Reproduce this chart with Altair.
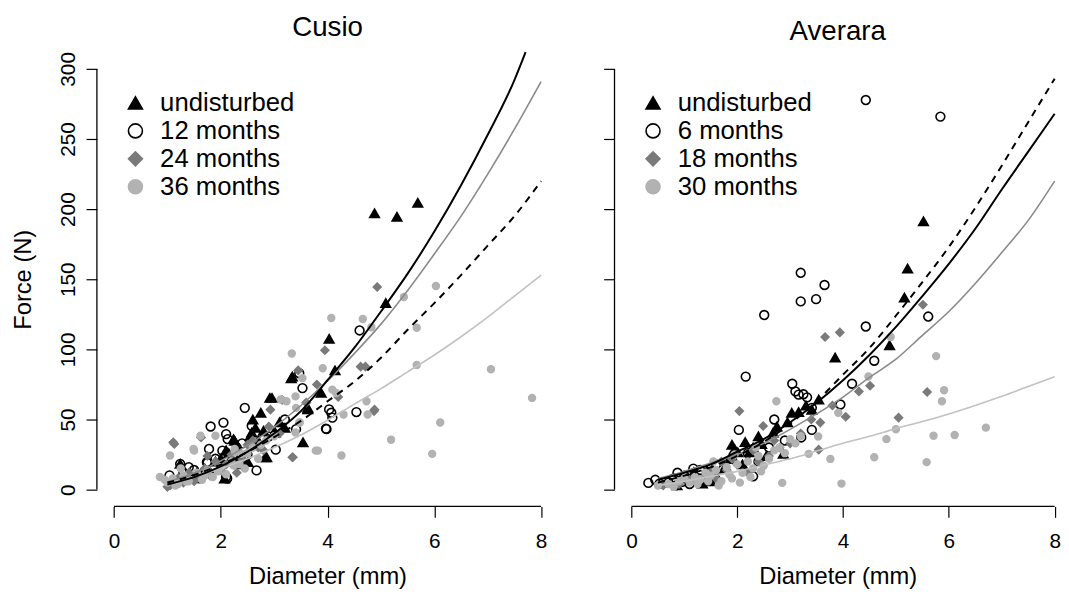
import altair as alt
import pandas as pd

FONT = "Liberation Sans"
x_ticks = [0, 2, 4, 6, 8]
y_ticks = [0, 50, 100, 150, 200, 250, 300]
y_domain = [-12, 312]

shapes = ["triangle-up", "circle", "diamond", "circle"]
fills = ["#000000", "transparent", "#7a7a7a", "#b2b2b2"]
strokes = ["#000000", "#000000", "#7a7a7a", "#b2b2b2"]
sizes = [95, 48, 34, 90]
size_keys = ["s1", "s2", "s3", "s4"]

# ---------------- Cusio ----------------
cus_groups = ["undisturbed", "12 months", "24 months", "36 months"]
cus_und_d = [4.88, 5.30, 5.69, 4.03, 5.09, 4.14, 3.34, 2.96, 3.88, 3.63, 3.54, 2.75, 3.02, 2.86, 2.51, 2.58, 2.26, 2.07, 1.24, 2.92, 2.99, 2.83, 2.24, 2.43, 3.32, 3.63,
             1.35, 1.55, 1.7, 1.9, 2.0, 2.15, 2.3, 2.4, 2.55, 2.65, 2.7, 2.8, 1.1, 1.45, 1.8, 2.1, 2.35, 3.1, 3.2, 2.6]
cus_und_f = [197, 194.5, 204.5, 107.5, 133, 85, 80.6, 65.4, 69, 58.3, 33.7, 54.8, 40.7, 23, 19.6, 40.7, 34.9, 7.9, 18.4, 65.4, 40.5, 23.1, 36, 19.6, 79.4, 57.2,
             10, 12, 15, 20, 22, 26, 30, 18, 38, 44, 35, 42, 5, 8, 13, 28, 24, 48, 44, 50]
cus_m1_d = [4.60, 4.54, 4.07, 4.09, 3.98, 3.53, 2.45, 2.05, 1.81, 2.10, 2.13, 2.58, 2.67, 3.03, 2.03, 1.78, 1.74, 1.24, 1.04, 2.10, 3.47, 3.41, 1.75, 2.12, 4.03, 3.97,
            1.3, 1.5, 1.6, 1.9, 2.3, 2.5, 2.8, 1.15, 1.4, 2.2, 2.9, 3.2, 2.4, 1.65]
cus_m1_f = [113.5, 55.3, 54.8, 51.3, 43.1, 72.4, 58.3, 47.8, 45, 39.6, 36, 45.4, 13.7, 28.5, 27.8, 29, 19.6, 18.4, 10.2, 9, 83, 43.1, 19.2, 7.9, 57.2, 43.5,
            12, 14, 8, 22, 30, 25, 36, 6, 16, 20, 38, 50, 33, 11]
cus_m2_d = [4.93, 3.95, 3.34, 1.11, 4.87, 4.71, 4.88, 4.62, 1.13, 1.63, 3.35, 2.93, 3.15,
            1.2, 1.4, 1.5, 1.7, 1.8, 1.9, 2.0, 2.2, 2.4, 2.5, 2.7, 2.9, 3.1, 3.6, 3.8, 1.05, 1.3, 1.6, 2.1, 2.3, 2.6, 3.45, 4.2, 1.0, 1.75, 2.8]
cus_m2_f = [144.5, 99.4, 23.1, 33.7, 56, 87.7, 57, 87.7, 32.5, 37.2, 23.1, 57, 64,
            8, 12, 6, 15, 10, 20, 14, 25, 22, 32, 30, 45, 40, 62, 75, 3, 5, 9, 18, 12, 35, 85, 66, 2, 24, 28]
cus_m3_d = [4.07, 4.66, 4.82, 5.43, 6.03, 5.67, 5.67, 7.06, 7.83, 6.11, 5.96, 5.19, 4.26, 3.82, 3.33, 4.73, 4.75, 4.30, 4.16, 3.91, 3.53, 3.40, 3.12, 3.47, 3.40,
            2.39, 2.26, 1.49, 1.05, 0.86, 1.62, 1.50, 1.90, 2.27, 2.24, 3.41, 3.78, 3.48, 3.23, 4.09,
            1.0, 1.1, 1.2, 1.3, 1.4, 1.55, 1.65, 1.75, 1.85, 2.0, 2.1, 2.2, 2.35, 2.5, 2.6, 2.7, 2.85, 3.0, 1.15, 1.35, 1.7, 1.95, 2.45, 2.75, 0.95, 1.25]
cus_m3_f = [122.4, 121.7, 115.8, 137.4, 145.2, 115.4, 88.8, 85.8, 65.4, 47.8, 25.5, 35.6, 24.3, 27.8, 97, 63, 53.6, 53.6, 68.9, 86.5, 79.5, 66.5, 64.2, 47.8, 40.7,
            25.5, 29, 29, 24.3, 9, 38.4, 27.8, 38.4, 26.6, 17.2, 58.3, 27.8, 47.8, 63, 71.3,
            5, 8, 4, 10, 6, 12, 7, 14, 9, 16, 11, 20, 18, 26, 30, 22, 35, 38, 3, 6, 10, 13, 15, 32, 7, 15]

# fitted curves (the undisturbed one leaves the plot at its top edge)
cus_curve_d = [1, 1.5, 2, 2.5, 3, 3.5, 4, 4.5, 5, 5.5, 6, 6.5, 7, 7.5, 8]
cus_curve_und_d = [1, 1.5, 2, 2.5, 3, 3.5, 4, 4.5, 5, 5.5, 6, 6.5, 7, 7.5, 7.71]
cus_curve_und = [3.7, 8.9, 16.5, 27, 40, 56, 78, 101, 127, 154, 184, 217, 253, 292, 312]
cus_curve_m1 = [5, 10.4, 17.8, 26.8, 37.5, 49, 63, 77, 94, 114, 133, 153, 174, 195, 220]
cus_curve_m2 = [5.4, 11.8, 20.5, 31.5, 44.5, 60, 77.5, 97, 118, 142, 168, 195, 225, 257, 291]
cus_curve_m3 = [4.8, 9.6, 15, 22, 30, 39, 49.5, 61, 72, 84, 96, 109, 123, 138, 153]

# ---------------- Averara ----------------
ave_groups = ["undisturbed", "6 months", "18 months", "30 months"]
ave_und_d = [5.52, 5.22, 5.16, 4.88, 3.85, 3.03, 3.16, 1.95, 2.01, 2.46, 3.41, 2.68, 2.23, 3.54, 2.87, 0.86, 1.18, 1.34, 1.43,
             1.6, 1.75, 1.85, 2.1, 2.3, 2.55, 2.75, 2.95, 3.3, 1.05, 1.5, 1.9, 2.15, 2.4]
ave_und_f = [191.4, 157.6, 137, 103, 94.2, 54.8, 55.3, 28.9, 26.6, 32.5, 57, 40.7, 26.6, 64.2, 25.5, 3, 12.6, 4.3, 13.7,
             10, 15, 22, 18, 30, 24, 45, 48, 60, 8, 6, 32, 34, 38]
ave_m1_d = [4.43, 5.84, 3.20, 3.65, 3.20, 3.49, 2.51, 4.43, 5.61, 4.59, 4.17, 3.95, 2.16, 3.04, 3.16, 3.32, 3.41, 2.70, 2.03, 3.41, 3.21, 2.30,
            0.32, 0.53, 0.80, 0.87, 0.84, 0.96, 1.17, 3.10, 3.25, 1.0, 1.3, 1.6, 1.9, 2.2, 2.6, 2.9, 0.45, 0.7, 1.1, 1.5, 2.4]
ave_m1_f = [277.8, 266, 154.6, 145.9, 134.2, 135.8, 124.5, 116.3, 123.4, 91.9, 75.5, 60.7, 80.6, 75.5, 67.7, 65.8, 58.3, 50, 42.6, 42.6, 37.2, 9.5,
            4.8, 4.3, 8, 12, 3, 5.5, 15, 70, 68, 10, 14, 18, 22, 26, 30, 35, 7, 5, 4, 8, 20]
ave_m2_d = [3.66, 3.94, 5.51, 4.51, 5.59, 5.05, 4.05, 2.04, 3.57, 3.54, 2.49,
            1.2, 1.4, 1.6, 1.8, 2.0, 2.2, 2.4, 2.6, 2.8, 3.0, 3.2, 3.8, 4.3, 0.9, 1.1, 1.5, 1.7, 1.9, 2.3, 2.7, 3.4, 0.6]
ave_m2_f = [108.8, 112.1, 131.8, 74.1, 69.6, 51.3, 52, 56, 47.8, 28.5, 45.4,
            6, 10, 8, 14, 18, 12, 20, 24, 30, 33, 40, 60, 70, 4, 7, 13, 20, 22, 28, 35, 50, 3]
ave_m3_d = [5.76, 5.91, 5.87, 6.70, 6.11, 5.71, 5.58, 5.00, 4.82, 4.59, 4.48, 3.76, 3.97, 2.85, 2.74, 4.90, 3.91, 3.53, 3.35, 3.00,
            0.5, 0.7, 0.9, 1.0, 1.1, 1.2, 1.3, 1.4, 1.5, 1.6, 1.7, 1.8, 1.9, 2.0, 2.1, 2.2, 2.3, 2.4, 2.5, 2.6, 2.7, 2.8, 2.9, 3.1, 3.2,
            1.25, 1.45, 1.65, 1.85, 2.05, 2.25, 2.45, 0.8, 1.55, 1.95, 2.35]
ave_m3_f = [95.2, 70.8, 63, 44.2, 38.9, 38.4, 19.6, 43.1, 36, 23.1, 80.6, 21.9, 4.3, 4.8, 63, 108.8, 54.8, 37.9, 25.5, 36,
            3, 4, 6, 8, 5, 9, 7, 12, 10, 14, 6, 16, 8, 18, 12, 20, 15, 24, 17, 22, 28, 30, 26, 33, 38,
            4, 6, 3, 11, 5, 9, 13, 2, 20, 25, 30]

ave_curve_d = [0.5, 1, 1.5, 2, 2.5, 3, 3.5, 4, 4.5, 5, 5.5, 6, 6.5, 7, 7.5, 8]
ave_curve_und = [7, 12, 18, 27, 36, 48, 62, 78, 96, 116, 138, 161, 186, 214, 241, 268]
ave_curve_m1 = [5, 10, 16, 24, 34, 47, 63, 82, 101, 124, 148, 173, 201, 231, 262, 293]
ave_curve_m2 = [8, 13, 19, 25, 33, 43, 54, 66, 80, 93, 110, 127, 147, 169, 192, 220]
ave_curve_m3 = [3, 6, 9.5, 13, 17.5, 22, 27.5, 33, 38, 43.5, 48.5, 54, 60, 66.5, 73.5, 80.5]

H = 460


def panel(title, groups, pts, curves, xdom, width, ylabels):
    rows = []
    for i, (g, (ds, fs)) in enumerate(zip(groups, pts)):
        for d, f in zip(ds, fs):
            rows.append({"D": d, "F": f, "group": g, "sz": size_keys[i]})
    df = pd.DataFrame(rows)

    xs = alt.Scale(domain=xdom, nice=False, zero=False)
    ys = alt.Scale(domain=y_domain, nice=False, zero=False)
    xaxis = alt.Axis(values=x_ticks, title="Diameter (mm)", format="d", domain=False, grid=False,
                     tickColor="black", tickSize=11, tickWidth=1.2, labelFont=FONT, labelFontSize=21,
                     labelColor="black", labelPadding=13.5, labelFlush=False, titleFont=FONT, titleFontSize=24,
                     titleFontWeight="normal", titleColor="black", titlePadding=13.5)
    if ylabels:
        yaxis = alt.Axis(values=y_ticks, title="Force (N)", format="d", domain=False, grid=False,
                         tickColor="black", tickSize=11, tickWidth=1.2, labelFont=FONT, labelFontSize=21,
                         labelColor="black", labelAngle=270, labelAlign="center", labelBaseline="alphabetic",
                         labelPadding=12, labelOverlap=False, labelFlush=False, titleFont=FONT, titleFontSize=24,
                         titleFontWeight="normal", titleColor="black", titlePadding=22)
    else:
        yaxis = alt.Axis(values=y_ticks, title=None, labels=False, domain=False, grid=False,
                         tickColor="black", tickSize=11, tickWidth=1.2)

    leg = alt.Legend(title=None, orient="none", legendX=26, legendY=38.5, padding=0, rowPadding=2.3,
                     labelFont=FONT, labelFontSize=26, labelColor="black", labelOffset=12,
                     symbolStrokeWidth=1.6, symbolSize=200, labelLimit=400)

    x_enc = alt.X("D:Q", scale=xs, axis=xaxis, title="Diameter (mm)")
    y_enc = alt.Y("F:Q", scale=ys, axis=yaxis, title="Force (N)")

    points = alt.Chart(df).mark_point(opacity=1, strokeWidth=1.6).encode(
        x=x_enc,
        y=y_enc,
        shape=alt.Shape("group:N", scale=alt.Scale(domain=groups, range=shapes), legend=leg),
        fill=alt.Fill("group:N", scale=alt.Scale(domain=groups, range=fills), legend=leg),
        stroke=alt.Stroke("group:N", scale=alt.Scale(domain=groups, range=strokes), legend=leg),
        size=alt.Size("sz:N", scale=alt.Scale(domain=size_keys, range=sizes), legend=None),
        order=alt.Order("idx:Q"),
    ).transform_window(idx="row_number()")

    # curve order: [undisturbed, first, second, third]; draw light ones first
    styles = {0: ("#000000", None, 2.0), 1: ("#000000", [7, 6], 2.0),
              2: ("#8a8a8a", None, 1.6), 3: ("#c2c2c2", None, 1.6)}
    line_layers = []
    for k in [3, 2, 1, 0]:
        cd, cf = curves[k]
        color, dash, sw = styles[k]
        cdf = pd.DataFrame({"D": cd, "F": cf})
        kw = dict(color=color, strokeWidth=sw, interpolate="monotone")
        if dash:
            kw["strokeDash"] = dash
        line_layers.append(alt.Chart(cdf).mark_line(**kw).encode(x=x_enc, y=y_enc))

    xline = alt.Chart(pd.DataFrame({"D": [x_ticks[0]], "D2": [x_ticks[-1]]})).mark_rule(
        color="black", strokeWidth=1.3).encode(x=x_enc, x2="D2:Q", y=alt.value(H))
    yline = alt.Chart(pd.DataFrame({"F": [y_ticks[0]], "F2": [y_ticks[-1]]})).mark_rule(
        color="black", strokeWidth=1.3).encode(y=y_enc, y2="F2:Q", x=alt.value(0))

    return alt.layer(points, *line_layers, xline, yline).properties(
        width=width, height=H,
        title=alt.TitleParams(title, font=FONT, fontSize=28, fontWeight="normal", color="black",
                              offset=6.5, anchor="middle"),
    )


left = panel("Cusio", cus_groups,
             [(cus_und_d, cus_und_f), (cus_m1_d, cus_m1_f), (cus_m2_d, cus_m2_f), (cus_m3_d, cus_m3_f)],
             [(cus_curve_und_d, cus_curve_und), (cus_curve_d, cus_curve_m1),
              (cus_curve_d, cus_curve_m2), (cus_curve_d, cus_curve_m3)],
             [-0.32, 8.32], 467, True)
right = panel("Averara", ave_groups,
              [(ave_und_d, ave_und_f), (ave_m1_d, ave_m1_f), (ave_m2_d, ave_m2_f), (ave_m3_d, ave_m3_f)],
              [(ave_curve_d, ave_curve_und), (ave_curve_d, ave_curve_m1),
               (ave_curve_d, ave_curve_m2), (ave_curve_d, ave_curve_m3)],
              [-0.32, 8.12], 452, False)

chart = alt.hconcat(left, right, spacing=45).resolve_scale(
    shape="independent", fill="independent", stroke="independent", size="independent"
).properties(
    padding={"left": 4, "top": 2, "right": 0, "bottom": 0}, background="white"
).configure_view(strokeWidth=0)

chart.save("out.html", embed_options={"renderer": "svg", "actions": False})
